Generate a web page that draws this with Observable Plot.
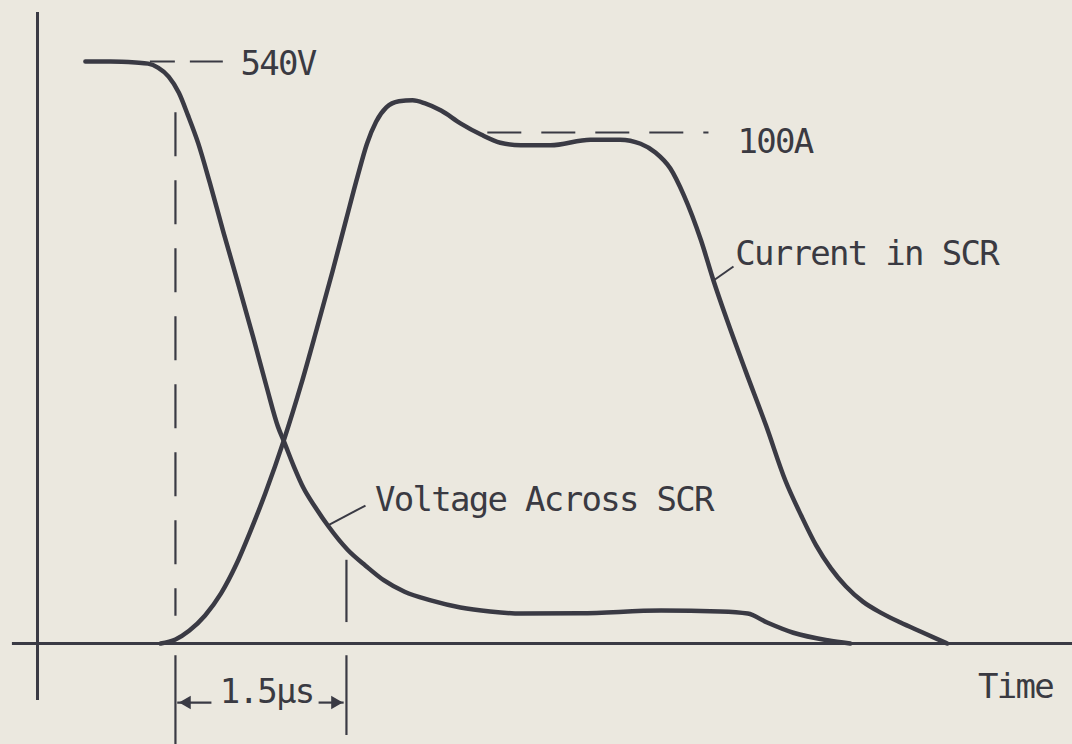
<!DOCTYPE html>
<html>
<head>
<meta charset="utf-8">
<script src="https://cdn.jsdelivr.net/npm/d3@7"></script>
<script src="https://cdn.jsdelivr.net/npm/@observablehq/plot@0.6"></script>
<style>
  html, body { margin: 0; padding: 0; background: #ebe8df; }
  #chart { width: 1072px; height: 744px; overflow: hidden; }
</style>
</head>
<body>
<div id="chart"></div>
<script>
// ---- Data (time in µs, voltage in V, current in A) ----
const voltageTime = [0.42, 0.64, 0.86, 0.97, 1.06, 1.15, 1.24, 1.32, 1.41, 1.51, 1.63, 1.76, 1.89, 2.01, 2.11, 2.16, 2.25, 2.33, 2.44, 2.55, 2.72, 2.88, 3.04, 3.22, 3.45, 3.71, 3.97, 4.24, 4.76, 5.47, 5.99, 6.23, 6.40, 6.63, 6.93, 7.13];
const voltageVolts = [540, 540, 539, 538, 534, 526, 511, 490, 464, 428, 382, 334, 285, 238, 201, 188, 164, 145, 126, 109, 87, 72, 58.5, 48, 40, 33.4, 29.7, 27.8, 28, 30.6, 29.7, 27.8, 19.5, 10, 3, 0];

const currentTime = [1.08, 1.21, 1.33, 1.47, 1.61, 1.74, 1.87, 2.00, 2.16, 2.31, 2.45, 2.59, 2.71, 2.81, 2.89, 2.97, 3.06, 3.17, 3.29, 3.40, 3.54, 3.71, 3.89, 4.06, 4.24, 4.50, 4.85, 5.11, 5.29, 5.42, 5.55, 5.67, 5.82, 5.93, 6.05, 6.21, 6.39, 6.56, 6.70, 6.83, 6.96, 7.09, 7.24, 7.40, 7.57, 7.75, 7.98];
const currentAmps = [0, 0.8, 2.5, 5.5, 9.8, 15.3, 22.1, 29.5, 39.7, 50.5, 61.6, 73.0, 83.2, 91.6, 97.8, 102.1, 104.9, 106.1, 106.3, 105.7, 104.3, 101.8, 99.6, 98.0, 97.5, 97.5, 98.6, 98.6, 97.8, 96.1, 93.0, 87.7, 78.9, 71.0, 63.2, 53.4, 42.7, 31.9, 25.0, 19.2, 14.7, 11.2, 8.2, 6.0, 4.1, 2.3, 0];

// reference levels and the marked interval
const voltageRef = 540;            // V
const currentRef = 100;            // A
const intervalStart = 1.21;        // µs
const intervalEnd = 2.71;          // µs  (1.5 µs later)

// texts
const labelVoltageRef = "540V";
const labelCurrentRef = "100A";
const labelCurrent = "Current in SCR";
const labelVoltage = "Voltage Across SCR";
const labelInterval = "1.5µs";
const labelTime = "Time";

// ---- Common normalised vertical scale: 540 V -> 1, 100 A drawn at 0.878 ----
const CURRENT_LEVEL = 0.878;
const yV = v => v / voltageRef;
const yA = a => a / currentRef * CURRENT_LEVEL;

const voltage = voltageTime.map((t, i) => ({t, y: yV(voltageVolts[i])}));
const current = currentTime.map((t, i) => ({t, y: yA(currentAmps[i])}));

const INK = "#3a3a44";
const FONT = "DejaVu Sans Mono";
const txt = {fontFamily: FONT, fontSize: 34, fill: "#3a3a42", lineAnchor: "bottom"};

const chart = Plot.plot({
  width: 1072,
  height: 744,
  margin: 0,
  style: {background: "transparent", overflow: "visible"},
  x: {domain: [-0.3246, 9.0789], axis: null},
  y: {domain: [-0.1735, 1.1048], axis: null},
  marks: [
    // axes
    Plot.ruleX([0], {y1: -0.098, y2: 1.084, stroke: INK, strokeWidth: 3}),
    Plot.ruleY([0], {x1: -0.22, x2: 9.1, stroke: INK, strokeWidth: 3}),
    // 540 V reference dash
    Plot.ruleY([yV(voltageRef)], {x1: 0.99, x2: 1.63, stroke: INK, strokeWidth: 2.2, strokeDasharray: "25,15,35"}),
    // 100 A reference dash
    Plot.ruleY([yA(currentRef)], {x1: 3.95, x2: 5.89, stroke: INK, strokeWidth: 2.2, strokeDasharray: "34,20"}),
    // interval markers
    Plot.ruleX([intervalStart], {y1: 0.912, y2: 0.047, stroke: INK, strokeWidth: 2.2, strokeDasharray: "44,24"}),
    Plot.ruleX([intervalStart], {y1: -0.021, y2: -0.18, stroke: INK, strokeWidth: 2.2}),
    Plot.ruleX([intervalEnd], {y1: 0.143, y2: 0.036, stroke: INK, strokeWidth: 2.2}),
    Plot.ruleX([intervalEnd], {y1: -0.021, y2: -0.158, stroke: INK, strokeWidth: 2.2}),
    // interval arrows
    Plot.ruleY([yV(-54.8)], {x1: intervalStart + 0.02, x2: 1.53, stroke: INK, strokeWidth: 2.2}),
    Plot.ruleY([yV(-54.8)], {x1: 2.47, x2: intervalEnd - 0.02, stroke: INK, strokeWidth: 2.2}),
    Plot.dot([{t: intervalStart + 0.1, r: -90}, {t: intervalEnd - 0.1, r: 90}],
      {x: "t", y: () => yV(-54.8), symbol: "triangle", rotate: "r", r: 5, fill: INK, stroke: "none"}),
    // leader lines
    Plot.link([{x1: 2.544, y1: 0.2027, x2: 2.877, y2: 0.2371}],
      {x1: "x1", y1: "y1", x2: "x2", y2: "y2", stroke: INK, strokeWidth: 2}),
    Plot.link([{x1: 5.93, y1: 0.6237, x2: 6.105, y2: 0.6478}],
      {x1: "x1", y1: "y1", x2: "x2", y2: "y2", stroke: INK, strokeWidth: 2}),
    // curves
    Plot.line(voltage, {x: "t", y: "y", curve: "monotone-x", stroke: INK, strokeWidth: 4.5, strokeLinecap: "round"}),
    Plot.line(current, {x: "t", y: "y", curve: "monotone-x", stroke: INK, strokeWidth: 4.5, strokeLinecap: "round"}),
    // labels
    Plot.text([labelVoltageRef], {x: () => 1.78, y: () => 0.976, text: d => d, textAnchor: "start", ...txt}),
    Plot.text([labelCurrentRef], {x: () => 6.14, y: () => 0.8436, text: d => d, textAnchor: "start", ...txt}),
    Plot.text([labelCurrent], {x: () => 6.12, y: () => 0.6495, text: d => d, textAnchor: "start", ...txt}),
    Plot.text([labelVoltage], {x: () => 2.96, y: () => 0.2285, text: d => d, textAnchor: "start", ...txt}),
    Plot.text([labelTime], {x: () => 8.25, y: () => -0.0928, text: d => d, textAnchor: "start", ...txt}),
    Plot.text([labelInterval], {x: () => 2.01, y: () => -0.1014, text: d => d, textAnchor: "middle", ...txt})
  ]
});
// condensed typewriter spacing
d3.select(chart).selectAll("text").attr("letter-spacing", "-1.7px");
document.getElementById("chart").appendChild(chart);
</script>
</body>
</html>
